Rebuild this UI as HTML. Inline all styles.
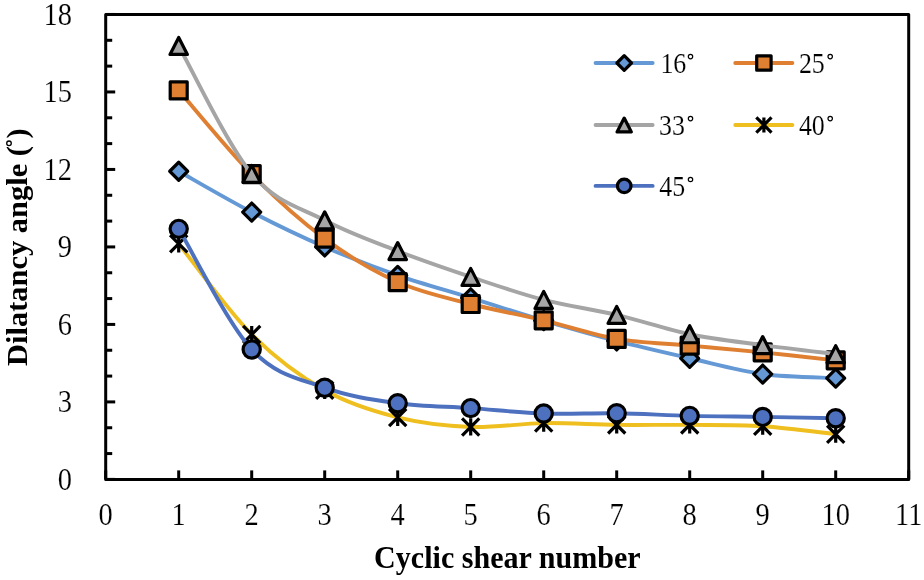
<!DOCTYPE html>
<html><head><meta charset="utf-8"><style>
html,body{margin:0;padding:0;background:#fff;}
svg{display:block;font-family:"Liberation Serif",serif;will-change:transform;}
</style></head><body>
<svg width="924" height="580" viewBox="0 0 924 580">
<rect width="924" height="580" fill="#fff"/>
<rect x="105.70" y="14.46" width="803.00" height="464.94" fill="none" stroke="#000" stroke-width="3" stroke-linejoin="round"/>
<line x1="105.70" y1="479.40" x2="115.20" y2="479.40" stroke="#000" stroke-width="3"/>
<line x1="105.70" y1="453.57" x2="112.20" y2="453.57" stroke="#000" stroke-width="3"/>
<line x1="105.70" y1="427.74" x2="112.20" y2="427.74" stroke="#000" stroke-width="3"/>
<line x1="105.70" y1="401.91" x2="115.20" y2="401.91" stroke="#000" stroke-width="3"/>
<line x1="105.70" y1="376.08" x2="112.20" y2="376.08" stroke="#000" stroke-width="3"/>
<line x1="105.70" y1="350.25" x2="112.20" y2="350.25" stroke="#000" stroke-width="3"/>
<line x1="105.70" y1="324.42" x2="115.20" y2="324.42" stroke="#000" stroke-width="3"/>
<line x1="105.70" y1="298.59" x2="112.20" y2="298.59" stroke="#000" stroke-width="3"/>
<line x1="105.70" y1="272.76" x2="112.20" y2="272.76" stroke="#000" stroke-width="3"/>
<line x1="105.70" y1="246.93" x2="115.20" y2="246.93" stroke="#000" stroke-width="3"/>
<line x1="105.70" y1="221.10" x2="112.20" y2="221.10" stroke="#000" stroke-width="3"/>
<line x1="105.70" y1="195.27" x2="112.20" y2="195.27" stroke="#000" stroke-width="3"/>
<line x1="105.70" y1="169.44" x2="115.20" y2="169.44" stroke="#000" stroke-width="3"/>
<line x1="105.70" y1="143.61" x2="112.20" y2="143.61" stroke="#000" stroke-width="3"/>
<line x1="105.70" y1="117.78" x2="112.20" y2="117.78" stroke="#000" stroke-width="3"/>
<line x1="105.70" y1="91.95" x2="115.20" y2="91.95" stroke="#000" stroke-width="3"/>
<line x1="105.70" y1="66.12" x2="112.20" y2="66.12" stroke="#000" stroke-width="3"/>
<line x1="105.70" y1="40.29" x2="112.20" y2="40.29" stroke="#000" stroke-width="3"/>
<line x1="105.70" y1="14.46" x2="115.20" y2="14.46" stroke="#000" stroke-width="3"/>
<line x1="105.70" y1="479.40" x2="105.70" y2="470.40" stroke="#000" stroke-width="3"/>
<line x1="178.70" y1="479.40" x2="178.70" y2="470.40" stroke="#000" stroke-width="3"/>
<line x1="251.70" y1="479.40" x2="251.70" y2="470.40" stroke="#000" stroke-width="3"/>
<line x1="324.70" y1="479.40" x2="324.70" y2="470.40" stroke="#000" stroke-width="3"/>
<line x1="397.70" y1="479.40" x2="397.70" y2="470.40" stroke="#000" stroke-width="3"/>
<line x1="470.70" y1="479.40" x2="470.70" y2="470.40" stroke="#000" stroke-width="3"/>
<line x1="543.70" y1="479.40" x2="543.70" y2="470.40" stroke="#000" stroke-width="3"/>
<line x1="616.70" y1="479.40" x2="616.70" y2="470.40" stroke="#000" stroke-width="3"/>
<line x1="689.70" y1="479.40" x2="689.70" y2="470.40" stroke="#000" stroke-width="3"/>
<line x1="762.70" y1="479.40" x2="762.70" y2="470.40" stroke="#000" stroke-width="3"/>
<line x1="835.70" y1="479.40" x2="835.70" y2="470.40" stroke="#000" stroke-width="3"/>
<line x1="908.70" y1="479.40" x2="908.70" y2="470.40" stroke="#000" stroke-width="3"/>
<text transform="translate(72.0,489.70) scale(0.95,1.08)" text-anchor="end" font-size="30" stroke="#fff" stroke-width="0.15">0</text>
<text transform="translate(72.0,412.21) scale(0.95,1.08)" text-anchor="end" font-size="30" stroke="#fff" stroke-width="0.15">3</text>
<text transform="translate(72.0,334.72) scale(0.95,1.08)" text-anchor="end" font-size="30" stroke="#fff" stroke-width="0.15">6</text>
<text transform="translate(72.0,257.23) scale(0.95,1.08)" text-anchor="end" font-size="30" stroke="#fff" stroke-width="0.15">9</text>
<text transform="translate(72.0,179.74) scale(0.95,1.08)" text-anchor="end" font-size="30" stroke="#fff" stroke-width="0.15">12</text>
<text transform="translate(72.0,102.25) scale(0.95,1.08)" text-anchor="end" font-size="30" stroke="#fff" stroke-width="0.15">15</text>
<text transform="translate(72.0,24.76) scale(0.95,1.08)" text-anchor="end" font-size="30" stroke="#fff" stroke-width="0.15">18</text>
<text transform="translate(105.70,524.5) scale(0.95,1.08)" text-anchor="middle" font-size="30" stroke="#fff" stroke-width="0.15">0</text>
<text transform="translate(178.70,524.5) scale(0.95,1.08)" text-anchor="middle" font-size="30" stroke="#fff" stroke-width="0.15">1</text>
<text transform="translate(251.70,524.5) scale(0.95,1.08)" text-anchor="middle" font-size="30" stroke="#fff" stroke-width="0.15">2</text>
<text transform="translate(324.70,524.5) scale(0.95,1.08)" text-anchor="middle" font-size="30" stroke="#fff" stroke-width="0.15">3</text>
<text transform="translate(397.70,524.5) scale(0.95,1.08)" text-anchor="middle" font-size="30" stroke="#fff" stroke-width="0.15">4</text>
<text transform="translate(470.70,524.5) scale(0.95,1.08)" text-anchor="middle" font-size="30" stroke="#fff" stroke-width="0.15">5</text>
<text transform="translate(543.70,524.5) scale(0.95,1.08)" text-anchor="middle" font-size="30" stroke="#fff" stroke-width="0.15">6</text>
<text transform="translate(616.70,524.5) scale(0.95,1.08)" text-anchor="middle" font-size="30" stroke="#fff" stroke-width="0.15">7</text>
<text transform="translate(689.70,524.5) scale(0.95,1.08)" text-anchor="middle" font-size="30" stroke="#fff" stroke-width="0.15">8</text>
<text transform="translate(762.70,524.5) scale(0.95,1.08)" text-anchor="middle" font-size="30" stroke="#fff" stroke-width="0.15">9</text>
<text transform="translate(835.70,524.5) scale(0.95,1.08)" text-anchor="middle" font-size="30" stroke="#fff" stroke-width="0.15">10</text>
<text transform="translate(908.70,524.5) scale(0.95,1.08)" text-anchor="middle" font-size="30" stroke="#fff" stroke-width="0.15">11</text>
<text transform="translate(507.4,568) scale(0.97,1.02)" text-anchor="middle" font-size="31" font-weight="bold">Cyclic shear number</text>
<text transform="translate(27.2,247.1) rotate(-90) scale(1.015,0.96)" x="0" y="0" text-anchor="middle" font-size="30" font-weight="bold">Dilatancy angle ( )</text>
<circle cx="9.0" cy="143.3" r="2.3" fill="none" stroke="#000" stroke-width="1.3"/>
<path d="M178.70,171.25 C190.87,178.05 227.37,199.45 251.70,212.06 C276.03,224.67 300.37,236.38 324.70,246.93 C349.03,257.48 373.37,266.86 397.70,275.34 C422.03,283.82 446.37,290.28 470.70,297.82 C495.03,305.35 519.37,313.36 543.70,320.55 C568.03,327.73 592.37,334.67 616.70,340.95 C641.03,347.24 665.37,352.75 689.70,358.26 C714.03,363.77 738.37,370.70 762.70,374.01 C787.03,377.33 823.53,377.46 835.70,378.15" fill="none" stroke="#6499D6" stroke-width="3.9" stroke-linecap="round" stroke-linejoin="round"/>
<path d="M178.70,162.25 L187.70,171.25 L178.70,180.25 L169.70,171.25 Z" fill="#6499D6" stroke="#000" stroke-width="3.2" stroke-linejoin="round"/>
<path d="M251.70,203.06 L260.70,212.06 L251.70,221.06 L242.70,212.06 Z" fill="#6499D6" stroke="#000" stroke-width="3.2" stroke-linejoin="round"/>
<path d="M324.70,237.93 L333.70,246.93 L324.70,255.93 L315.70,246.93 Z" fill="#6499D6" stroke="#000" stroke-width="3.2" stroke-linejoin="round"/>
<path d="M397.70,266.34 L406.70,275.34 L397.70,284.34 L388.70,275.34 Z" fill="#6499D6" stroke="#000" stroke-width="3.2" stroke-linejoin="round"/>
<path d="M470.70,288.82 L479.70,297.82 L470.70,306.82 L461.70,297.82 Z" fill="#6499D6" stroke="#000" stroke-width="3.2" stroke-linejoin="round"/>
<path d="M543.70,311.55 L552.70,320.55 L543.70,329.55 L534.70,320.55 Z" fill="#6499D6" stroke="#000" stroke-width="3.2" stroke-linejoin="round"/>
<path d="M616.70,331.95 L625.70,340.95 L616.70,349.95 L607.70,340.95 Z" fill="#6499D6" stroke="#000" stroke-width="3.2" stroke-linejoin="round"/>
<path d="M689.70,349.26 L698.70,358.26 L689.70,367.26 L680.70,358.26 Z" fill="#6499D6" stroke="#000" stroke-width="3.2" stroke-linejoin="round"/>
<path d="M762.70,365.01 L771.70,374.01 L762.70,383.01 L753.70,374.01 Z" fill="#6499D6" stroke="#000" stroke-width="3.2" stroke-linejoin="round"/>
<path d="M835.70,369.15 L844.70,378.15 L835.70,387.15 L826.70,378.15 Z" fill="#6499D6" stroke="#000" stroke-width="3.2" stroke-linejoin="round"/>
<path d="M178.70,90.40 C190.87,104.35 227.37,149.38 251.70,174.09 C276.03,198.80 300.37,220.67 324.70,238.66 C349.03,256.66 373.37,271.17 397.70,282.06 C422.03,292.95 446.37,297.64 470.70,304.01 C495.03,310.39 519.37,314.48 543.70,320.29 C568.03,326.10 592.37,334.67 616.70,338.88 C641.03,343.10 665.37,343.36 689.70,345.60 C714.03,347.84 738.37,349.86 762.70,352.32 C787.03,354.77 823.53,358.99 835.70,360.32" fill="none" stroke="#DE7F31" stroke-width="3.9" stroke-linecap="round" stroke-linejoin="round"/>
<rect x="170.20" y="81.90" width="17.00" height="17.00" fill="#DE7F31" stroke="#000" stroke-width="3.2" stroke-linejoin="round"/>
<rect x="243.20" y="165.59" width="17.00" height="17.00" fill="#DE7F31" stroke="#000" stroke-width="3.2" stroke-linejoin="round"/>
<rect x="316.20" y="230.16" width="17.00" height="17.00" fill="#DE7F31" stroke="#000" stroke-width="3.2" stroke-linejoin="round"/>
<rect x="389.20" y="273.56" width="17.00" height="17.00" fill="#DE7F31" stroke="#000" stroke-width="3.2" stroke-linejoin="round"/>
<rect x="462.20" y="295.51" width="17.00" height="17.00" fill="#DE7F31" stroke="#000" stroke-width="3.2" stroke-linejoin="round"/>
<rect x="535.20" y="311.79" width="17.00" height="17.00" fill="#DE7F31" stroke="#000" stroke-width="3.2" stroke-linejoin="round"/>
<rect x="608.20" y="330.38" width="17.00" height="17.00" fill="#DE7F31" stroke="#000" stroke-width="3.2" stroke-linejoin="round"/>
<rect x="681.20" y="337.10" width="17.00" height="17.00" fill="#DE7F31" stroke="#000" stroke-width="3.2" stroke-linejoin="round"/>
<rect x="754.20" y="343.82" width="17.00" height="17.00" fill="#DE7F31" stroke="#000" stroke-width="3.2" stroke-linejoin="round"/>
<rect x="827.20" y="351.82" width="17.00" height="17.00" fill="#DE7F31" stroke="#000" stroke-width="3.2" stroke-linejoin="round"/>
<path d="M178.70,45.97 C190.87,67.28 227.37,144.77 251.70,173.83 C276.03,202.89 300.37,207.45 324.70,220.33 C349.03,233.20 373.37,241.63 397.70,251.06 C422.03,260.49 446.37,268.76 470.70,276.89 C495.03,285.03 519.37,293.55 543.70,299.88 C568.03,306.21 592.37,309.14 616.70,314.86 C641.03,320.59 665.37,329.20 689.70,334.24 C714.03,339.27 738.37,341.77 762.70,345.08 C787.03,348.40 823.53,352.62 835.70,354.12" fill="none" stroke="#A5A5A5" stroke-width="3.9" stroke-linecap="round" stroke-linejoin="round"/>
<path d="M178.70,37.47 L187.40,54.47 L170.00,54.47 Z" fill="#A5A5A5" stroke="#000" stroke-width="3.2" stroke-linejoin="round"/>
<path d="M251.70,165.33 L260.40,182.33 L243.00,182.33 Z" fill="#A5A5A5" stroke="#000" stroke-width="3.2" stroke-linejoin="round"/>
<path d="M324.70,211.83 L333.40,228.83 L316.00,228.83 Z" fill="#A5A5A5" stroke="#000" stroke-width="3.2" stroke-linejoin="round"/>
<path d="M397.70,242.56 L406.40,259.56 L389.00,259.56 Z" fill="#A5A5A5" stroke="#000" stroke-width="3.2" stroke-linejoin="round"/>
<path d="M470.70,268.39 L479.40,285.39 L462.00,285.39 Z" fill="#A5A5A5" stroke="#000" stroke-width="3.2" stroke-linejoin="round"/>
<path d="M543.70,291.38 L552.40,308.38 L535.00,308.38 Z" fill="#A5A5A5" stroke="#000" stroke-width="3.2" stroke-linejoin="round"/>
<path d="M616.70,306.36 L625.40,323.36 L608.00,323.36 Z" fill="#A5A5A5" stroke="#000" stroke-width="3.2" stroke-linejoin="round"/>
<path d="M689.70,325.74 L698.40,342.74 L681.00,342.74 Z" fill="#A5A5A5" stroke="#000" stroke-width="3.2" stroke-linejoin="round"/>
<path d="M762.70,336.58 L771.40,353.58 L754.00,353.58 Z" fill="#A5A5A5" stroke="#000" stroke-width="3.2" stroke-linejoin="round"/>
<path d="M835.70,345.62 L844.40,362.62 L827.00,362.62 Z" fill="#A5A5A5" stroke="#000" stroke-width="3.2" stroke-linejoin="round"/>
<path d="M178.70,243.83 C190.87,258.94 227.37,310.08 251.70,334.49 C276.03,358.90 300.37,376.47 324.70,390.29 C349.03,404.11 373.37,411.29 397.70,417.41 C422.03,423.52 446.37,426.02 470.70,426.97 C495.03,427.91 519.37,423.44 543.70,423.09 C568.03,422.75 592.37,424.60 616.70,424.90 C641.03,425.20 665.37,424.68 689.70,424.90 C714.03,425.11 738.37,424.64 762.70,426.19 C787.03,427.74 823.53,432.86 835.70,434.20" fill="none" stroke="#EEBF1E" stroke-width="3.9" stroke-linecap="round" stroke-linejoin="round"/>
<path d="M170.10,235.23 L187.30,252.43 M187.30,235.23 L170.10,252.43 M178.70,235.23 L178.70,252.43" fill="none" stroke="#000" stroke-width="3.2" stroke-linecap="butt"/>
<path d="M243.10,325.89 L260.30,343.09 M260.30,325.89 L243.10,343.09 M251.70,325.89 L251.70,343.09" fill="none" stroke="#000" stroke-width="3.2" stroke-linecap="butt"/>
<path d="M316.10,381.69 L333.30,398.89 M333.30,381.69 L316.10,398.89 M324.70,381.69 L324.70,398.89" fill="none" stroke="#000" stroke-width="3.2" stroke-linecap="butt"/>
<path d="M389.10,408.81 L406.30,426.01 M406.30,408.81 L389.10,426.01 M397.70,408.81 L397.70,426.01" fill="none" stroke="#000" stroke-width="3.2" stroke-linecap="butt"/>
<path d="M462.10,418.37 L479.30,435.57 M479.30,418.37 L462.10,435.57 M470.70,418.37 L470.70,435.57" fill="none" stroke="#000" stroke-width="3.2" stroke-linecap="butt"/>
<path d="M535.10,414.49 L552.30,431.69 M552.30,414.49 L535.10,431.69 M543.70,414.49 L543.70,431.69" fill="none" stroke="#000" stroke-width="3.2" stroke-linecap="butt"/>
<path d="M608.10,416.30 L625.30,433.50 M625.30,416.30 L608.10,433.50 M616.70,416.30 L616.70,433.50" fill="none" stroke="#000" stroke-width="3.2" stroke-linecap="butt"/>
<path d="M681.10,416.30 L698.30,433.50 M698.30,416.30 L681.10,433.50 M689.70,416.30 L689.70,433.50" fill="none" stroke="#000" stroke-width="3.2" stroke-linecap="butt"/>
<path d="M754.10,417.59 L771.30,434.79 M771.30,417.59 L754.10,434.79 M762.70,417.59 L762.70,434.79" fill="none" stroke="#000" stroke-width="3.2" stroke-linecap="butt"/>
<path d="M827.10,425.60 L844.30,442.80 M844.30,425.60 L827.10,442.80 M835.70,425.60 L835.70,442.80" fill="none" stroke="#000" stroke-width="3.2" stroke-linecap="butt"/>
<path d="M178.70,228.85 C190.87,248.95 227.37,323.00 251.70,349.48 C276.03,375.95 300.37,378.75 324.70,387.70 C349.03,396.66 373.37,399.80 397.70,403.20 C422.03,406.60 446.37,406.39 470.70,408.11 C495.03,409.83 519.37,412.67 543.70,413.53 C568.03,414.39 592.37,412.89 616.70,413.28 C641.03,413.66 665.37,415.26 689.70,415.86 C714.03,416.46 738.37,416.50 762.70,416.89 C787.03,417.28 823.53,417.97 835.70,418.18" fill="none" stroke="#4D71BF" stroke-width="3.9" stroke-linecap="round" stroke-linejoin="round"/>
<circle cx="178.70" cy="228.85" r="8.60" fill="#4D71BF" stroke="#000" stroke-width="3.2"/>
<circle cx="251.70" cy="349.48" r="8.60" fill="#4D71BF" stroke="#000" stroke-width="3.2"/>
<circle cx="324.70" cy="387.70" r="8.60" fill="#4D71BF" stroke="#000" stroke-width="3.2"/>
<circle cx="397.70" cy="403.20" r="8.60" fill="#4D71BF" stroke="#000" stroke-width="3.2"/>
<circle cx="470.70" cy="408.11" r="8.60" fill="#4D71BF" stroke="#000" stroke-width="3.2"/>
<circle cx="543.70" cy="413.53" r="8.60" fill="#4D71BF" stroke="#000" stroke-width="3.2"/>
<circle cx="616.70" cy="413.28" r="8.60" fill="#4D71BF" stroke="#000" stroke-width="3.2"/>
<circle cx="689.70" cy="415.86" r="8.60" fill="#4D71BF" stroke="#000" stroke-width="3.2"/>
<circle cx="762.70" cy="416.89" r="8.60" fill="#4D71BF" stroke="#000" stroke-width="3.2"/>
<circle cx="835.70" cy="418.18" r="8.60" fill="#4D71BF" stroke="#000" stroke-width="3.2"/>
<line x1="595.55" y1="63.00" x2="652.65" y2="63.00" stroke="#6499D6" stroke-width="3.9" stroke-linecap="round"/>
<path d="M624.20,55.70 L631.50,63.00 L624.20,70.30 L616.90,63.00 Z" fill="#6499D6" stroke="#000" stroke-width="3.2" stroke-linejoin="round"/>
<text transform="translate(660.40,73.10) scale(0.91,1.05)" font-size="28.5" stroke="#fff" stroke-width="0.15">16</text>
<circle cx="690.50" cy="56.60" r="2.2" fill="none" stroke="#000" stroke-width="1.2"/>
<line x1="735.25" y1="63.00" x2="792.35" y2="63.00" stroke="#DE7F31" stroke-width="3.9" stroke-linecap="round"/>
<rect x="756.70" y="55.80" width="14.40" height="14.40" fill="#DE7F31" stroke="#000" stroke-width="3.2" stroke-linejoin="round"/>
<text transform="translate(798.90,73.10) scale(0.91,1.05)" font-size="28.5" stroke="#fff" stroke-width="0.15">25</text>
<circle cx="830.20" cy="56.60" r="2.2" fill="none" stroke="#000" stroke-width="1.2"/>
<line x1="595.55" y1="125.00" x2="652.65" y2="125.00" stroke="#A5A5A5" stroke-width="3.9" stroke-linecap="round"/>
<path d="M624.20,118.05 L631.35,131.95 L617.05,131.95 Z" fill="#A5A5A5" stroke="#000" stroke-width="3.2" stroke-linejoin="round"/>
<text transform="translate(659.00,135.10) scale(0.91,1.05)" font-size="28.5" stroke="#fff" stroke-width="0.15">33</text>
<circle cx="690.50" cy="118.60" r="2.2" fill="none" stroke="#000" stroke-width="1.2"/>
<line x1="735.25" y1="125.00" x2="792.35" y2="125.00" stroke="#EEBF1E" stroke-width="3.9" stroke-linecap="round"/>
<path d="M756.30,117.40 L771.50,132.60 M771.50,117.40 L756.30,132.60 M763.90,117.40 L763.90,132.60" fill="none" stroke="#000" stroke-width="3.2" stroke-linecap="butt"/>
<text transform="translate(798.90,135.10) scale(0.91,1.05)" font-size="28.5" stroke="#fff" stroke-width="0.15">40</text>
<circle cx="830.20" cy="118.60" r="2.2" fill="none" stroke="#000" stroke-width="1.2"/>
<line x1="595.55" y1="185.90" x2="652.65" y2="185.90" stroke="#4D71BF" stroke-width="3.9" stroke-linecap="round"/>
<circle cx="624.20" cy="185.90" r="6.80" fill="#4D71BF" stroke="#000" stroke-width="3.2"/>
<text transform="translate(659.20,196.00) scale(0.91,1.05)" font-size="28.5" stroke="#fff" stroke-width="0.15">45</text>
<circle cx="690.50" cy="179.50" r="2.2" fill="none" stroke="#000" stroke-width="1.2"/>
</svg></body></html>
